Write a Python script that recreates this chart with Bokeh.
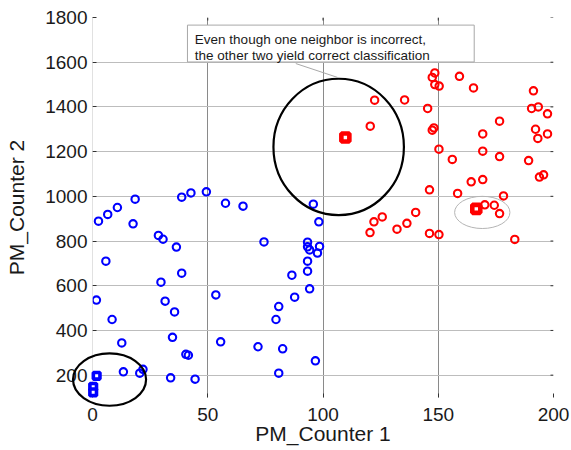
import numpy as np
from bokeh.plotting import figure
from bokeh.models import Range1d, FixedTicker, BoxAnnotation, Label, Span
from bokeh.embed import file_html
from bokeh.resources import INLINE

# ---------------- data ----------------
blue_x = [2.6, 6.6, 10.8, 18.5, 17.6, 28.6, 30.6, 36.4, 38.7, 42.7,
          49.4, 5.8, 38.7, 29.7, 57.7, 65.3, 95.8, 98.2, 74.4, 93.3,
          93.3, 94.2, 98.5, 97.6, 93.3, 93.3, 86.5, 94.2, 1.7, 31.5,
          35.6, 8.5, 53.5, 12.7, 34.7, 40.5, 41.6, 13.4, 20.5, 21.9,
          33.9, 44.5, 87.7, 80.8, 79.6, 55.6, 71.8, 82.5, 96.7, 80.8]
blue_y = [889, 919, 950, 987, 877, 825, 808, 773, 996, 1015,
          1020, 710, 656, 616, 969, 956, 965, 886, 796, 795,
          774, 760, 776, 746, 710, 665, 647, 586, 536, 531,
          483, 449, 559, 344, 369, 293, 289, 215, 209, 226,
          188, 182, 549, 507, 449, 349, 327, 318, 264, 209]

red_x = [122.4, 120.5, 148.5, 147.4, 148.5, 150.4, 159.2, 165.3, 191.3, 135.4,
         145.4, 190.5, 193.4, 197.4, 176.6, 148.1, 147.4, 169.3, 192.2, 193.2,
         197.4, 150.3, 169.3, 176.6, 156.1, 189.2, 193.9, 195.7, 164.3, 169.3,
         146.2, 158.4, 178.3, 170.2, 174.3, 176.6, 140.2, 136.4, 132.1, 125.7,
         146.2, 150.3, 183.2, 122.1, 120.4]
red_y = [1430, 1314, 1552, 1532, 1500, 1493, 1537, 1485, 1472, 1431,
         1393, 1393, 1400, 1369, 1336, 1306, 1296, 1279, 1300, 1259,
         1279, 1211, 1202, 1178, 1165, 1160, 1086, 1096, 1065, 1075,
         1029, 1013, 1002, 962, 960, 923, 928, 879, 853, 908,
         834, 829, 807, 886, 838]

red_query_x = [109.7, 166.5]
red_query_y = [1263, 944]
blue_query_x = [1.8, 0.3, 0.3]
blue_query_y = [197, 148, 123]

x_ticks = [0, 50, 100, 150, 200]
y_ticks = [200, 400, 600, 800, 1000, 1200, 1400, 1600, 1800]

note_lines = ["Even though one neighbor is incorrect,",
              "the other two yield correct classification"]

# annotation geometry (data units)
big_circle = dict(x=106.8, y=1221, w=56.6, h=610)
grey_ellipse = dict(x=169.1, y=928, w=24, h=144)
corner_ellipse = dict(x=7.4, y=180, w=31.7, h=234)
note_box = dict(left=41.2, right=165.6, top=1766, bottom=1601)
note_text_x = 44.4
note_text_y = [1702, 1632]
connector = dict(x0=88.2, y0=1594, x1=106.3, y1=1532)

FONT = "Liberation Sans"
TICK_COLOR = "#333333"

p = figure(width=571, height=450, x_range=Range1d(0, 200), y_range=Range1d(100, 1800),
           output_backend="svg", toolbar_location=None,
           min_border_left=92, min_border_right=18, min_border_top=17, min_border_bottom=53)
p.outline_line_color = None
p.background_fill_color = "white"

for ax in (p.xaxis[0], p.yaxis[0]):
    ax.axis_line_color = None
    ax.major_tick_in = 4
    ax.major_tick_out = 0
    ax.major_tick_line_color = TICK_COLOR
    ax.minor_tick_line_color = None
    ax.major_label_text_font = FONT
    ax.major_label_text_font_size = "19px"
    ax.major_label_text_color = "#1a1a1a"
    ax.axis_label_text_font = FONT
    ax.axis_label_text_font_size = "21px"
    ax.axis_label_text_font_style = "normal"
    ax.axis_label_text_color = "#1a1a1a"

p.xaxis[0].ticker = FixedTicker(ticks=x_ticks)
p.yaxis[0].ticker = FixedTicker(ticks=y_ticks)
p.xaxis[0].axis_label = "PM_Counter 1"
p.yaxis[0].axis_label = "PM_Counter 2"
p.xaxis[0].major_label_standoff = 10
p.yaxis[0].major_label_standoff = 5
p.xaxis[0].axis_label_standoff = -2
p.yaxis[0].axis_label_standoff = 14

p.xgrid.ticker = FixedTicker(ticks=[50, 100, 150, 200])
p.xgrid.grid_line_color = "#8a8a8a"
p.ygrid.grid_line_color = "#bdbdbd"
p.add_layout(Span(location=0, dimension="height", line_color="#c4c4c4", line_width=1))

# tick marks on the top and right edges (box on)
p.ray(x=x_ticks[1:-1], y=[y_ticks[-1]] * (len(x_ticks) - 2), length=3, length_units="screen",
      angle=-np.pi / 2, line_color=TICK_COLOR, line_width=1)
p.ray(x=[x_ticks[-1]] * len(y_ticks), y=y_ticks, length=3, length_units="screen",
      angle=np.pi, line_color=TICK_COLOR, line_width=1)

# points
p.scatter(blue_x, blue_y, marker="circle", size=7.4, line_width=2.1,
          line_color="#0000ff", fill_color=None)
p.scatter(red_x, red_y, marker="circle", size=7.4, line_width=2.1,
          line_color="#ff0000", fill_color=None)
p.scatter(red_query_x, red_query_y, marker="square", size=8, line_width=4.6,
          line_color="#ff0000", fill_color="white")
bq = p.scatter(blue_query_x, blue_query_y, marker="square", size=6.6, line_width=3.6,
               line_color="#0000ff", fill_color="white")
bq.level = "overlay"

# circles / ellipses
p.ellipse(x=[big_circle["x"]], y=[big_circle["y"]], width=[big_circle["w"]],
          height=[big_circle["h"]], fill_color=None, line_color="black", line_width=2.2)
p.ellipse(x=[grey_ellipse["x"]], y=[grey_ellipse["y"]], width=[grey_ellipse["w"]],
          height=[grey_ellipse["h"]], fill_color=None, line_color="#b4b4b4", line_width=1)
ce = p.ellipse(x=[corner_ellipse["x"]], y=[corner_ellipse["y"]], width=[corner_ellipse["w"]],
               height=[corner_ellipse["h"]], fill_color=None, line_color="black", line_width=2.2)
ce.level = "overlay"

# note box
p.add_layout(BoxAnnotation(left=note_box["left"], right=note_box["right"],
                           top=note_box["top"], bottom=note_box["bottom"],
                           fill_color="white", fill_alpha=1,
                           line_color="#a8a8a8", line_width=1, line_alpha=1))
for line, ty in zip(note_lines, note_text_y):
    p.add_layout(Label(x=note_text_x, y=ty, text=line, text_font=FONT,
                       text_font_size="13.5px", text_color="#1a1a1a",
                       text_baseline="alphabetic"))
p.segment(x0=[connector["x0"]], y0=[connector["y0"]], x1=[connector["x1"]],
          y1=[connector["y1"]], line_color="#a8a8a8", line_width=1)

open("out.html", "w").write(file_html(p, INLINE))
